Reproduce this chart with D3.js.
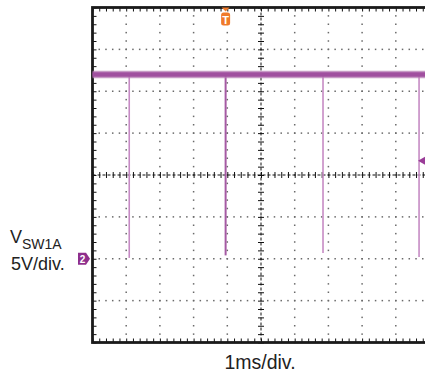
<!DOCTYPE html>
<html><head><meta charset="utf-8">
<script src="https://cdn.jsdelivr.net/npm/d3@7"></script>
<style>
html,body{margin:0;padding:0;background:#fff;}
svg{display:block;font-family:"Liberation Sans",Arial,sans-serif;}
</style></head>
<body>
<svg id="c" width="425" height="377"></svg>
<script>
// ---- data ----
const timeDivs = [-5,-4,-3,-2,-1,0,1,2,3,4,5];          // ms (1 ms/div)
const voltDivs = [-10,-5,0,5,10,15,20,25,30];           // V (5 V/div), channel ground at 0 V
const baselineV = 22.0;                                  // switching node high level
const bandHalfV = 0.5;                                   // noise band half width
const spikeTimes = [-3.91, -1.05, 1.84, 4.69];          // ms
const spikeMinV  = [0.1, 0.4, 0.7, 0.2];                // V
const triggerTime = -1.05;                               // ms
const triggerLevelV = 11.7;                              // V
const xLabel = "1ms/div.";
const chName = "V", chSub = "SW1A", chScale = "5V/div.";

// ---- scales ----
const svg = d3.select("#c");
const x = d3.scaleLinear().domain([-5,5]).range([92.5,429.5]);
const y = d3.scaleLinear().domain([-10,30]).range([342.5,7.5]);
const minorX = d3.range(-5,5.0001,0.2);
const minorY = d3.range(-10,30.0001,1);

// ---- grid dots ----
const gDots = svg.append("g").attr("fill","#6a6a6a");
timeDivs.filter(t=>t!==0 && t!==-5 && t!==5).forEach(t=>{
  minorY.forEach(v=>{
    gDots.append("rect").attr("x",x(t)-0.75).attr("y",y(v)-0.75).attr("width",1.5).attr("height",1.5);
  });
});
voltDivs.filter(v=>v!==10 && v!==-10 && v!==30).forEach(v=>{
  minorX.forEach(t=>{
    gDots.append("rect").attr("x",x(t)-0.75).attr("y",y(v)-0.75).attr("width",1.5).attr("height",1.5);
  });
});

// ---- center cross (dashed with ticks) ----
svg.append("line").attr("x1",x(0)).attr("x2",x(0)).attr("y1",y(30)).attr("y2",y(-10))
  .attr("stroke","#111").attr("stroke-width",1).attr("stroke-dasharray","3,2");
svg.append("line").attr("x1",x(-5)).attr("x2",x(5)).attr("y1",y(10)).attr("y2",y(10))
  .attr("stroke","#111").attr("stroke-width",1).attr("stroke-dasharray","3,2");

function styleAxis(g){
  g.select(".domain").remove();
  g.selectAll("text").remove();
  g.selectAll("line").attr("stroke","#111").attr("stroke-width",1);
}
svg.append("g").attr("transform",`translate(0,${y(10)-3})`)
  .call(d3.axisBottom(x).tickValues(minorX).tickSize(6)).call(styleAxis);
svg.append("g").attr("transform",`translate(${x(0)-3},0)`)
  .call(d3.axisRight(y).tickValues(minorY).tickSize(6)).call(styleAxis);

// ---- frame ticks ----
svg.append("g").attr("transform",`translate(0,${y(30)})`)
  .call(d3.axisBottom(x).tickValues(minorX).tickSize(4)).call(styleAxis);
svg.append("g").attr("transform",`translate(0,${y(-10)})`)
  .call(d3.axisTop(x).tickValues(minorX).tickSize(4)).call(styleAxis);
svg.append("g").attr("transform",`translate(${x(-5)},0)`)
  .call(d3.axisRight(y).tickValues(minorY).tickSize(4)).call(styleAxis);

// ---- frame ----
svg.append("rect").attr("x",x(-5)).attr("y",y(30)).attr("width",x(5)-x(-5)).attr("height",y(-10)-y(30))
  .attr("fill","none").attr("stroke","#1a1a1a").attr("stroke-width",2.8);

// ---- trace ----
const gTr = svg.append("g");
spikeTimes.forEach((t,i)=>{
  gTr.append("line").attr("x1",x(t)).attr("x2",x(t)).attr("y1",y(baselineV)).attr("y2",y(spikeMinV[i]))
    .attr("stroke", i===1 ? "#a55aa3" : "#c68bc4").attr("stroke-width", i===1 ? 2 : 1.6);
});
const band = d3.area().x(d=>x(d)).y0(y(baselineV-bandHalfV)-0.5).y1(y(baselineV+bandHalfV)+0.5);
gTr.append("path").datum([-5,5]).attr("d",band).attr("fill","#b47ab2").attr("opacity",0.75);
const band2 = d3.area().x(d=>x(d)).y0(y(baselineV-bandHalfV*0.55)).y1(y(baselineV+bandHalfV*0.55));
gTr.append("path").datum([-5,5]).attr("d",band2).attr("fill","#a04f9f");

// ---- trigger marker (top) ----
const tx = x(triggerTime);
svg.append("path").attr("d",`M${tx-4},${y(30)} L${tx+4},${y(30)} L${tx},${y(30)+4} Z`).attr("fill","#f07a2a");
svg.append("rect").attr("x",tx-4.5).attr("y",12.5).attr("width",9).attr("height",13).attr("rx",2.5).attr("fill","#f07a2a");
svg.append("text").attr("x",tx).attr("y",23.5).attr("text-anchor","middle").attr("fill","#fff")
  .attr("font-size",11).attr("font-weight","bold").text("T");

// ---- trigger level marker (right) ----
const ty = y(triggerLevelV);
svg.append("path").attr("d",`M${418},${ty} L${425},${ty-4} L${425},${ty+4} Z`).attr("fill","#9a3d98");

// ---- channel ground marker ----
const gy = y(0);
svg.append("path").attr("d",`M78,${gy-6} L86,${gy-6} L90,${gy} L86,${gy+6} L78,${gy+6} Z`).attr("fill","#8e2e8c");
svg.append("text").attr("x",82.5).attr("y",gy+4).attr("text-anchor","middle").attr("fill","#fff")
  .attr("font-size",10).attr("font-weight","bold").text("2");

// ---- labels ----
const lab = svg.append("text").attr("x",10).attr("y",243).attr("fill","#222").attr("font-size",18);
lab.append("tspan").text(chName);
lab.append("tspan").attr("font-size",14).attr("dy",6).text(chSub);
svg.append("text").attr("x",11).attr("y",270).attr("fill","#222").attr("font-size",18).text(chScale);
svg.append("text").attr("x",x(0)-1).attr("y",369).attr("text-anchor","middle").attr("fill","#222")
  .attr("font-size",19.5).text(xLabel);
</script>
</body></html>
